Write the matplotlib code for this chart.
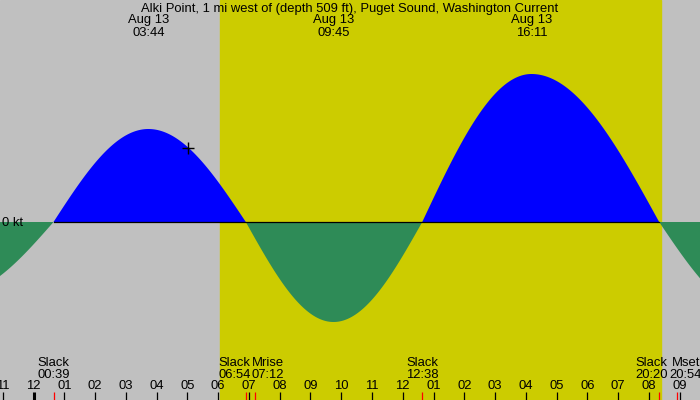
import numpy as np
import matplotlib
matplotlib.use('Agg')
import matplotlib.pyplot as plt

plt.rcParams['font.family'] = ['Liberation Sans', 'DejaVu Sans']

title = 'Alki Point, 1 mi west of (depth 509 ft), Puget Sound, Washington Current'

# hours after midnight, Aug 13
slackTimes = [0.65, 6.9, 12.633, 20.333]
slackLabels = ['00:39', '06:54', '12:38', '20:20']
maxTimes = [3.733, 9.75, 16.183]
maxValues = [0.93, -1.00, 1.48]  # kt
maxLabels = ['03:44', '09:45', '16:11']
maxDates = ['Aug 13', 'Aug 13', 'Aug 13']
# extremes just outside the window
edgeTimes = [-2.6, 23.5]
edgeValues = [-0.725, -0.92]

moonTimes = [7.2, 20.9]
moonNames = ['Mrise', 'Mset']
moonLabels = ['07:12', '20:54']

sunrise = 6.07
sunset = 20.39
nowTime = 5.03

hours = list(range(-1, 22))

xmin, xmax = -1.089, 21.66
ymin, ymax = -1.78, 2.22


def currentAt(t, knots):
    times = [k[0] for k in knots]
    vals = [k[1] for k in knots]
    out = np.zeros_like(t)
    for i in range(len(knots) - 1):
        t0, t1 = times[i], times[i + 1]
        v0, v1 = vals[i], vals[i + 1]
        m = (t >= t0) & (t <= t1)
        f = (t[m] - t0) / (t1 - t0)
        if v0 == 0:
            out[m] = v1 * np.sin(np.pi / 2 * f)
        else:
            out[m] = v0 * np.cos(np.pi / 2 * f)
    return out


knots = [(edgeTimes[0], edgeValues[0])]
for i in range(len(slackTimes)):
    knots.append((slackTimes[i], 0.0))
    if i < len(maxTimes):
        knots.append((maxTimes[i], maxValues[i]))
knots.append((edgeTimes[1], edgeValues[1]))

fig = plt.figure(figsize=(7, 4), dpi=100)
ax = fig.add_axes([0, 0, 1, 1])
ax.set_xlim(xmin, xmax)
ax.set_ylim(ymin, ymax)
ax.axis('off')

ax.axvspan(xmin, xmax, color='#c0c0c0', zorder=0)
ax.axvspan(sunrise, sunset, color='#cccc00', zorder=0)

t = np.linspace(xmin, xmax, 3000)
v = currentAt(t, knots)
ax.fill_between(t, 0, v, where=v >= 0, color='#0000ff', lw=0, interpolate=True, zorder=2)
ax.fill_between(t, 0, v, where=v <= 0, color='#2e8b57', lw=0, interpolate=True, zorder=2)
ax.plot([slackTimes[0], slackTimes[-1]], [0, 0], color='black', lw=0.9, zorder=3)

nowVal = currentAt(np.array([nowTime]), knots)[0]
ax.plot(nowTime, nowVal, marker='+', color='black', ms=9, mew=1.0, zorder=4)

tr = ax.get_xaxis_transform()
fs = 9.4

ax.text(0.5, 0.97, title, transform=ax.transAxes, ha='center', va='baseline', fontsize=fs)
for tm, d, lab in zip(maxTimes, maxDates, maxLabels):
    ax.text(tm, 0.94125, d, transform=tr, ha='center', va='baseline', fontsize=fs)
    ax.text(tm, 0.91, lab, transform=tr, ha='center', va='baseline', fontsize=fs)

ax.annotate('0 kt', xy=(xmin, 0), xytext=(2, -1), textcoords='offset pixels',
            ha='left', va='center', fontsize=fs)

# bottom event labels
events = list(zip(slackTimes, ['Slack'] * 4, slackLabels))
events += list(zip(moonTimes, moonNames, moonLabels))
events.sort()
shifts = [0, -11, 13, 0, -8, 9]
for (tm, name, lab), dx in zip(events, shifts):
    ax.annotate(name, xy=(tm, 0.085), xycoords=tr, xytext=(dx, 0), textcoords='offset pixels',
                ha='center', va='baseline', fontsize=fs)
    ax.annotate(lab, xy=(tm, 0.05575), xycoords=tr, xytext=(dx, 0), textcoords='offset pixels',
                ha='center', va='baseline', fontsize=fs)

for h in hours:
    ax.text(h, 0.0275, '%02d' % (h % 12 if h % 12 else 12), transform=tr,
            ha='center', va='baseline', fontsize=fs)
    if h % 24 == 0:
        ax.vlines(h, 0, 0.02, transform=tr, color='black', lw=2.2, zorder=5)
    else:
        ax.vlines(h, 0, 0.02, transform=tr, color='black', lw=0.9, zorder=5)

for tm in slackTimes + moonTimes:
    ax.vlines(tm, 0, 0.02, transform=tr, color='red', lw=0.9, zorder=5)

fig.savefig('out.png', dpi=100)
